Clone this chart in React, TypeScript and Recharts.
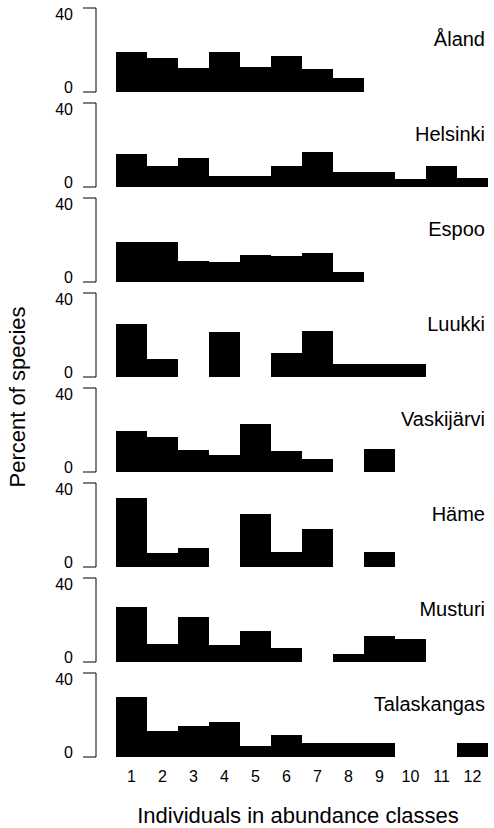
import React from "react";
import { BarChart, Bar, XAxis, YAxis } from "recharts";

const classes = ["1", "2", "3", "4", "5", "6", "7", "8", "9", "10", "11", "12"];
const sites = ["Åland", "Helsinki", "Espoo", "Luukki", "Vaskijärvi", "Häme", "Musturi", "Talaskangas"];

const aland = [18.9, 16.2, 11.3, 18.9, 11.9, 17.1, 11.0, 6.7, 0, 0, 0, 0];
const helsinki = [15.9, 10.0, 13.8, 5.2, 5.2, 10.0, 16.5, 7.0, 7.0, 4.0, 10.2, 4.4];
const espoo = [19.2, 19.2, 10.2, 9.7, 12.7, 12.2, 14.0, 4.8, 0, 0, 0, 0];
const luukki = [25.2, 8.7, 0, 21.6, 0, 11.6, 22.1, 6.3, 6.3, 6.3, 0, 0];
const vaskijarvi = [19.7, 16.5, 10.3, 8.1, 23.0, 9.8, 6.0, 0, 10.8, 0, 0, 0];
const hame = [33.0, 6.8, 9.0, 0, 25.2, 7.0, 18.3, 0, 7.0, 0, 0, 0];
const musturi = [26.2, 8.6, 21.3, 8.1, 14.9, 6.5, 0, 4.0, 12.4, 10.8, 0, 0];
const talaskangas = [28.7, 12.4, 14.8, 16.7, 5.1, 10.5, 6.7, 6.7, 6.7, 0, 0, 6.8];

const yTicks = [0, 40];
const seriesList = [aland, helsinki, espoo, luukki, vaskijarvi, hame, musturi, talaskangas];

const FONT = "'Liberation Sans', Arial, Helvetica, sans-serif";
const ZERO0 = 91.7;
const PITCH = 95.1;
const PLOT_H = 84;
const MT = 12;

function YTick(props: any) {
  const { x, y, payload } = props;
  const dy = payload.value === 40 ? 6 : -4.5;
  return (
    <text
      x={x}
      y={y + dy}
      textAnchor="end"
      dominantBaseline="central"
      fontSize={16}
      fontFamily={FONT}
      fill="#000"
    >
      {payload.value}
    </text>
  );
}

function Panel({ values, index, last }: { values: number[]; index: number; last: boolean }) {
  const data = classes.map((c, i) => ({ c, v: values[i] }));
  const zero = ZERO0 + PITCH * index;
  const top = Math.round(zero - PLOT_H - MT);
  const xh = last ? 40 : 0;
  const mb = last ? 0 : 12;
  const height = MT + PLOT_H + xh + mb;
  return (
    <div style={{ position: "absolute", left: 0, top, width: 494, height }}>
      <BarChart
        width={494}
        height={height}
        data={data}
        margin={{ top: MT, right: 6, bottom: mb, left: 0 }}
        barCategoryGap={0}
        barGap={0}
      >
        <XAxis
          dataKey="c"
          hide={!last}
          height={xh || 30}
          padding={{ left: 20, right: 0 }}
          axisLine={false}
          tickLine={false}
          tickMargin={8}
          interval={0}
          tick={{ fontSize: 16, fill: "#000", fontFamily: FONT }}
        />
        <YAxis
          width={96}
          domain={[0, 40]}
          ticks={yTicks}
          allowDataOverflow
          axisLine={{ stroke: "#000", strokeWidth: 1 }}
          tickLine={{ stroke: "#000", strokeWidth: 1 }}
          tickSize={13}
          tickMargin={10}
          tick={<YTick />}
        />
        <Bar dataKey="v" fill="#000" shapeRendering="crispEdges" isAnimationActive={false} />
      </BarChart>
    </div>
  );
}

export default function App() {
  return (
    <div style={{ position: "absolute", left: 0, top: 0, width: 494, height: 828, background: "#fff", fontFamily: FONT }}>
      {seriesList.map((s, i) => (
        <Panel key={sites[i]} values={s} index={i} last={i === seriesList.length - 1} />
      ))}
      <svg width={494} height={828} style={{ position: "absolute", left: 0, top: 0, pointerEvents: "none" }}>
        {sites.map((name, i) => (
          <text
            key={name}
            x={485}
            y={ZERO0 + PITCH * i - 46}
            textAnchor="end"
            fontSize={20}
            fontFamily={FONT}
            fill="#000"
          >
            {name}
          </text>
        ))}
        <text
          x={298}
          y={823}
          textAnchor="middle"
          fontSize={22}
          fontFamily={FONT}
          fill="#000"
        >
          Individuals in abundance classes
        </text>
        <text
          x={0}
          y={0}
          transform="translate(25, 397) rotate(-90)"
          textAnchor="middle"
          fontSize={22}
          fontFamily={FONT}
          fill="#000"
        >
          Percent of species
        </text>
      </svg>
    </div>
  );
}
